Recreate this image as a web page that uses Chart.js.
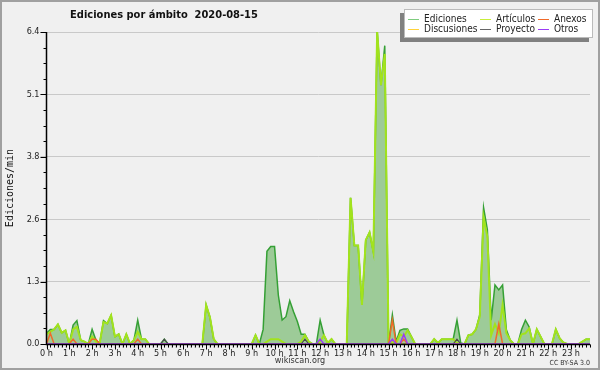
<!DOCTYPE html>
<html>
<head>
<meta charset="utf-8">
<script src="https://cdn.jsdelivr.net/npm/chart.js@4.4.1/dist/chart.umd.min.js"></script>
<style>
  body { margin: 0; background: #f0f0f0; }
  #wrap { position: relative; width: 600px; height: 370px; }
  #wrap canvas { position: absolute; left: 0; top: 0; display: block; }
</style>
</head>
<body>
<div id="wrap">
  <canvas id="base" width="600" height="370"></canvas>
  <canvas id="overlay" width="600" height="370"></canvas>
</div>
<script>
// one value every 10 minutes, 6 per hour row
const ediciones = [
  0.22, 0.30, 0.30, 0.40, 0.23, 0.28,   // 0 h
  0.00, 0.39, 0.48, 0.08, 0.05, 0.00,   // 1 h
  0.30, 0.08, 0.02, 0.48, 0.42, 0.59,   // 2 h
  0.15, 0.20, 0.00, 0.20, 0.00, 0.08,   // 3 h
  0.49, 0.10, 0.10, 0.00, 0.00, 0.00,   // 4 h
  0.00, 0.10, 0.00, 0.00, 0.00, 0.00,   // 5 h
  0.00, 0.00, 0.00, 0.00, 0.00, 0.00,   // 6 h
  0.80, 0.55, 0.10, 0.00, 0.00, 0.00,   // 7 h
  0.00, 0.00, 0.00, 0.00, 0.00, 0.00,   // 8 h
  0.00, 0.18, 0.00, 0.30, 1.90, 2.00,   // 9 h
  2.00, 1.00, 0.49, 0.56, 0.89, 0.66,   // 10 h
  0.46, 0.20, 0.20, 0.05, 0.00, 0.00,   // 11 h
  0.49, 0.18, 0.02, 0.10, 0.00, 0.00,   // 12 h
  0.00, 0.00, 3.00, 2.02, 2.02, 0.80,   // 13 h
  2.13, 2.29, 1.89, 6.42, 5.31, 6.12,   // 14 h
  0.00, 0.60, 0.05, 0.28, 0.31, 0.31,   // 15 h
  0.15, 0.00, 0.00, 0.00, 0.00, 0.00,   // 16 h
  0.10, 0.02, 0.10, 0.10, 0.10, 0.10,   // 17 h
  0.49, 0.02, 0.00, 0.18, 0.20, 0.30,   // 18 h
  0.60, 2.80, 2.34, 0.49, 1.21, 1.11,   // 19 h
  1.21, 0.29, 0.08, 0.00, 0.00, 0.30,   // 20 h
  0.49, 0.35, 0.00, 0.30, 0.15, 0.00,   // 21 h
  0.00, 0.00, 0.30, 0.12, 0.03, 0.00,   // 22 h
  0.00, 0.00, 0.00, 0.05, 0.10, 0.10    // 23 h
];

const articulos = [
  0.20, 0.25, 0.30, 0.40, 0.23, 0.28,   // 0 h
  0.00, 0.30, 0.35, 0.08, 0.05, 0.00,   // 1 h
  0.15, 0.05, 0.02, 0.45, 0.42, 0.59,   // 2 h
  0.15, 0.20, 0.00, 0.20, 0.00, 0.08,   // 3 h
  0.25, 0.10, 0.10, 0.00, 0.00, 0.00,   // 4 h
  0.00, 0.00, 0.00, 0.00, 0.00, 0.00,   // 5 h
  0.00, 0.00, 0.00, 0.00, 0.00, 0.00,   // 6 h
  0.80, 0.55, 0.10, 0.00, 0.00, 0.00,   // 7 h
  0.00, 0.00, 0.00, 0.00, 0.00, 0.00,   // 8 h
  0.00, 0.18, 0.00, 0.00, 0.05, 0.10,   // 9 h
  0.10, 0.10, 0.05, 0.00, 0.00, 0.00,   // 10 h
  0.00, 0.05, 0.18, 0.05, 0.00, 0.00,   // 11 h
  0.05, 0.18, 0.02, 0.10, 0.00, 0.00,   // 12 h
  0.00, 0.00, 3.00, 2.02, 2.02, 0.80,   // 13 h
  2.13, 2.29, 1.89, 6.42, 5.31, 5.95,   // 14 h
  0.00, 0.05, 0.02, 0.20, 0.15, 0.28,   // 15 h
  0.15, 0.00, 0.00, 0.00, 0.00, 0.00,   // 16 h
  0.10, 0.02, 0.10, 0.10, 0.10, 0.10,   // 17 h
  0.02, 0.00, 0.00, 0.18, 0.20, 0.30,   // 18 h
  0.56, 2.60, 2.20, 0.18, 0.41, 0.22,   // 19 h
  0.80, 0.22, 0.08, 0.00, 0.00, 0.20,   // 20 h
  0.22, 0.32, 0.00, 0.30, 0.15, 0.00,   // 21 h
  0.00, 0.00, 0.30, 0.12, 0.03, 0.00,   // 22 h
  0.00, 0.00, 0.00, 0.05, 0.10, 0.10    // 23 h
];

const anexos = [
  0, 0.22, 0, 0, 0, 0,   0, 0.10, 0, 0, 0, 0,   0.10, 0.10, 0, 0, 0, 0,   0, 0, 0, 0, 0, 0,   // 0-3 h
  0.10, 0, 0, 0, 0, 0,   0, 0, 0, 0, 0, 0,      0, 0, 0, 0, 0, 0,         0, 0, 0, 0, 0, 0,   // 4-7 h
  0, 0, 0, 0, 0, 0,      0, 0, 0, 0, 0, 0,      0, 0, 0, 0, 0, 0,         0, 0, 0, 0, 0, 0,   // 8-11 h
  0, 0, 0, 0, 0, 0,      0, 0, 0, 0, 0, 0,      0, 0, 0, 0, 0, 0,         0, 0.49, 0, 0, 0.10, 0, // 12-15 h
  0, 0, 0, 0, 0, 0,      0, 0, 0, 0, 0, 0,      0, 0, 0, 0, 0, 0,         0, 0, 0, 0, 0, 0.41, // 16-19 h
  0, 0, 0, 0, 0, 0,      0, 0, 0, 0, 0, 0,      0, 0, 0, 0, 0, 0,         0, 0, 0, 0, 0, 0    // 20-23 h
];

const discusiones = [
  0, 0, 0, 0, 0, 0,   0, 0, 0, 0, 0, 0,   0, 0, 0, 0, 0, 0,   0, 0, 0, 0, 0, 0,   // 0-3 h
  0, 0, 0, 0, 0, 0,   0, 0, 0, 0, 0, 0,   0, 0, 0, 0, 0, 0,   0, 0, 0, 0, 0, 0,   // 4-7 h
  0, 0, 0, 0, 0, 0,   0, 0, 0, 0, 0, 0,   0, 0, 0, 0, 0, 0,   0, 0, 0, 0, 0, 0,   // 8-11 h
  0, 0, 0, 0, 0, 0,   0, 0, 0, 0, 0, 0,   0, 0, 0, 0, 0, 0,   0, 0, 0, 0, 0, 0,   // 12-15 h
  0, 0, 0, 0, 0, 0,   0, 0, 0, 0, 0, 0,   0, 0, 0, 0, 0, 0,   0, 0, 0, 0, 0, 0,   // 16-19 h
  0, 0, 0, 0, 0, 0,   0, 0, 0, 0, 0, 0,   0, 0, 0, 0, 0, 0,   0, 0, 0, 0, 0, 0    // 20-23 h
];

const proyecto = [
  0, 0, 0, 0, 0, 0,   0, 0, 0, 0, 0, 0,      0, 0, 0, 0, 0, 0,      0, 0, 0, 0, 0, 0,   // 0-3 h
  0, 0, 0, 0, 0, 0,   0, 0.10, 0, 0, 0, 0,   0, 0, 0, 0, 0, 0,      0, 0, 0, 0, 0, 0,   // 4-7 h
  0, 0, 0, 0, 0, 0,   0, 0, 0, 0, 0, 0,      0, 0, 0, 0, 0, 0,      0, 0, 0.10, 0, 0, 0, // 8-11 h
  0, 0, 0, 0, 0, 0,   0, 0, 0, 0, 0, 0,      0, 0, 0, 0, 0, 0,      0, 0, 0, 0, 0, 0,   // 12-15 h
  0, 0, 0, 0, 0, 0,   0, 0, 0, 0, 0, 0,      0.10, 0, 0, 0, 0, 0,   0, 0, 0, 0, 0, 0,   // 16-19 h
  0, 0, 0, 0, 0, 0,   0, 0, 0, 0, 0, 0,      0, 0, 0, 0, 0, 0,      0, 0, 0, 0, 0, 0    // 20-23 h
];

const otros = [
  0, 0, 0, 0, 0, 0,      0, 0, 0, 0, 0, 0,   0, 0, 0, 0, 0, 0,   0, 0, 0, 0, 0, 0,           // 0-3 h
  0, 0, 0, 0, 0, 0,      0, 0, 0, 0, 0, 0,   0, 0, 0, 0, 0, 0,   0, 0, 0, 0, 0, 0,           // 4-7 h
  0, 0, 0, 0, 0, 0,      0, 0, 0, 0, 0, 0,   0, 0, 0, 0, 0, 0,   0, 0, 0, 0, 0, 0,           // 8-11 h
  0.10, 0, 0, 0, 0, 0,   0, 0, 0, 0, 0, 0,   0, 0, 0, 0, 0, 0,   0, 0.10, 0, 0, 0.20, 0,     // 12-15 h
  0, 0, 0, 0, 0, 0,      0, 0, 0, 0, 0, 0,   0, 0, 0, 0, 0, 0,   0, 0, 0, 0, 0, 0,           // 16-19 h
  0, 0, 0, 0, 0, 0,      0, 0, 0, 0, 0, 0,   0, 0, 0, 0, 0, 0,   0, 0, 0, 0, 0, 0            // 20-23 h
];

const hourLabels = ['0 h', '1 h', '2 h', '3 h', '4 h', '5 h', '6 h', '7 h', '8 h', '9 h', '10 h', '11 h',
  '12 h', '13 h', '14 h', '15 h', '16 h', '17 h', '18 h', '19 h', '20 h', '21 h', '22 h', '23 h'];
const yTickValues = [0, 1.28, 2.56, 3.84, 5.12, 6.4];
const yTickLabels = ['0.0', '1.3', '2.6', '3.8', '5.1', '6.4'];
// legend grid, row by row
const legendOrder = ['Ediciones', 'Artículos', 'Anexos', 'Discusiones', 'Proyecto', 'Otros'];

const FONT = "'DejaVu Sans Condensed', 'DejaVu Sans', sans-serif";
Chart.defaults.font.family = FONT;

const toPoints = arr => arr.map((v, i) => ({ x: i, y: v }));

function makeLine(label, data, color, width, extra) {
    return Object.assign({
        label: label,
        data: toPoints(data),
        borderColor: color,
        legendColor: color,
        borderWidth: width,
        pointRadius: 0,
        tension: 0,
        fill: false
    }, extra || {});
}

// bottom canvas: the total, filled down to zero
const baseSets = [
    makeLine('Ediciones', ediciones, '#35a035', 1.5, {
        fill: 'origin',
        backgroundColor: '#9dcb98',
        legendColor: '#7fcc7f'
    })
];
// top canvas: the per-namespace lines (dataset 0 is painted last)
const overlaySets = [
    makeLine('Otros', otros, '#9b3cf5', 1.5),
    makeLine('Proyecto', proyecto, '#4a4a4a', 1.2, { legendColor: '#666666' }),
    makeLine('Discusiones', discusiones, '#ffd23a', 1.5),
    makeLine('Anexos', anexos, '#f06a2a', 1.5),
    makeLine('Artículos', articulos, '#a2e31c', 2, { legendColor: '#c8ee3a' })
];

// both canvases share the same scales so their plot areas line up
function buildScales(overlay) {
    return {
        x: {
            type: 'linear',
            min: 0,
            max: ediciones.length - 1,
            afterBuildTicks: scale => {
                scale.ticks = ediciones.map((v, i) => ({ value: i }));
            },
            afterFit: scale => { scale.height = 26; },
            grid: { drawOnChartArea: false, tickLength: 4, color: overlay ? 'transparent' : 'rgba(0,0,0,0.1)' },
            ticks: {
                autoSkip: false,
                maxRotation: 0,
                padding: 0,
                font: { size: 9 },
                color: overlay ? 'transparent' : '#222',
                callback: (v) => (v % 6 === 0 ? hourLabels[v / 6] : '')
            }
        },
        y: {
            min: 0,
            max: 6.4,
            afterBuildTicks: scale => {
                scale.ticks = yTickValues.map(v => ({ value: v }));
            },
            afterFit: scale => { scale.width = 46.5; },
            grid: { tickLength: 6, color: overlay ? 'transparent' : '#c9c9c9' },
            ticks: {
                autoSkip: false,
                padding: 1,
                font: { size: 9 },
                color: overlay ? 'transparent' : '#222',
                callback: (v, i) => yTickLabels[i]
            }
        }
    };
}

const backgroundFill = {
    id: 'backgroundFill',
    beforeDraw(chart) {
        const ctx = chart.ctx;
        ctx.save();
        ctx.fillStyle = '#f0f0f0';
        ctx.fillRect(0, 0, chart.width, chart.height);
        ctx.restore();
    }
};

const chartDecor = {
    id: 'chartDecor',
    afterDatasetsDraw(chart) {
        const { ctx, chartArea: a, scales: { x, y } } = chart;
        const lx = Math.round(a.left) - 0.5;
        const by = Math.round(a.bottom) + 0.5;
        ctx.save();
        ctx.strokeStyle = '#000';
        ctx.lineWidth = 1.5;
        ctx.beginPath();
        ctx.moveTo(lx, a.top);
        ctx.lineTo(lx, by);
        ctx.lineTo(a.right, by);
        ctx.stroke();
        ctx.lineWidth = 1;
        ctx.beginPath();
        // long ticks at the labels, three short ones between
        yTickValues.forEach((v, i) => {
            const py = Math.round(y.getPixelForValue(v)) + 0.5;
            ctx.moveTo(lx - 6, py);
            ctx.lineTo(lx, py);
            if (i < yTickValues.length - 1) {
                const step = (yTickValues[i + 1] - v) / 4;
                for (let k = 1; k < 4; k++) {
                    const my = Math.round(y.getPixelForValue(v + step * k)) + 0.5;
                    ctx.moveTo(lx - 3, my);
                    ctx.lineTo(lx, my);
                }
            }
        });
        x.ticks.forEach((t, i) => {
            const px = Math.round(x.getPixelForValue(t.value)) + 0.5;
            const len = i % 6 === 0 ? 5 : 3;
            ctx.moveTo(px, by);
            ctx.lineTo(px, by + len);
        });
        ctx.stroke();
        ctx.restore();
    },
    afterDraw(chart) {
        const ctx = chart.ctx;
        const sets = baseSets.concat(overlaySets);
        ctx.save();

        // title
        ctx.fillStyle = '#111';
        ctx.font = 'bold 11px ' + FONT;
        ctx.textAlign = 'center';
        ctx.textBaseline = 'middle';
        ctx.fillText('Ediciones por ámbito  2020-08-15', 164, 15);

        // y axis title
        ctx.save();
        ctx.translate(10, 188);
        ctx.rotate(-Math.PI / 2);
        ctx.font = "10px 'DejaVu Sans Mono', monospace";
        ctx.fillStyle = '#111';
        ctx.fillText('Ediciones/min', 0, 0);
        ctx.restore();

        // legend box with shadow
        ctx.fillStyle = '#808080';
        ctx.fillRect(400, 13, 189, 29);
        ctx.fillStyle = '#ffffff';
        ctx.fillRect(404, 9, 189, 29);
        ctx.strokeStyle = '#bbbbbb';
        ctx.lineWidth = 1;
        ctx.strokeRect(404.5, 9.5, 188, 28);

        const cols = [408, 480, 538];
        const rows = [19, 29];
        ctx.font = '10px ' + FONT;
        ctx.textAlign = 'left';
        legendOrder.forEach((name, i) => {
            const ds = sets.find(d => d.label === name);
            const cx = cols[i % 3];
            const cy = rows[Math.floor(i / 3)];
            ctx.strokeStyle = ds.legendColor;
            ctx.beginPath();
            ctx.moveTo(cx, cy + 0.5);
            ctx.lineTo(cx + 11, cy + 0.5);
            ctx.stroke();
            ctx.fillStyle = '#222';
            ctx.fillText(ds.label, cx + 16, cy);
        });

        // footer
        ctx.fillStyle = '#333';
        ctx.font = '9px ' + FONT;
        ctx.textAlign = 'center';
        ctx.fillText('wikiscan.org', 300, 361);
        ctx.font = '7px ' + FONT;
        ctx.textAlign = 'right';
        ctx.fillText('CC BY-SA 3.0', 590, 363);

        // outer frame
        ctx.strokeStyle = '#a0a0a0';
        ctx.lineWidth = 2;
        ctx.strokeRect(1, 1, chart.width - 2, chart.height - 2);
        ctx.restore();
    }
};

function commonOptions(overlay) {
    return {
        responsive: false,
        animation: false,
        devicePixelRatio: 1,
        layout: { padding: { top: 32, right: 10, bottom: 0, left: 0 } },
        plugins: { legend: { display: false }, tooltip: { enabled: false } },
        scales: buildScales(overlay)
    };
}

new Chart(document.getElementById('base').getContext('2d'), {
    type: 'line',
    data: { datasets: baseSets },
    options: commonOptions(false),
    plugins: [backgroundFill]
});

new Chart(document.getElementById('overlay').getContext('2d'), {
    type: 'line',
    data: { datasets: overlaySets },
    options: commonOptions(true),
    plugins: [chartDecor]
});
</script>
</body>
</html>
